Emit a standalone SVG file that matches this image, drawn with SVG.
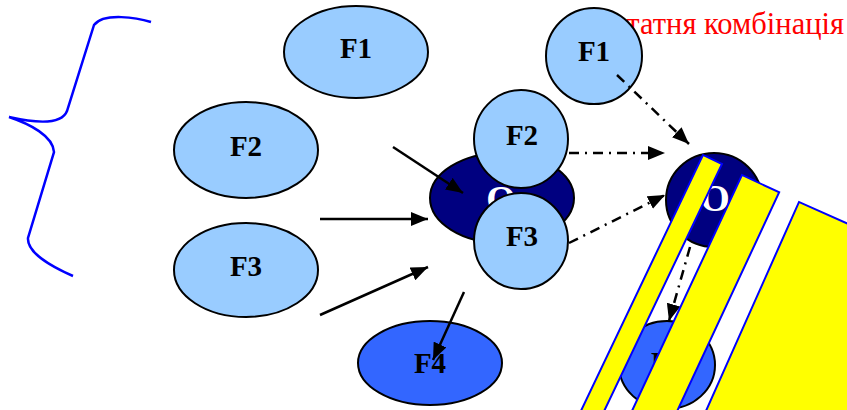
<svg xmlns="http://www.w3.org/2000/svg" width="847" height="410" viewBox="0 0 847 410">
<style>
.lb{fill:#99CCFF;stroke:#000;stroke-width:2}
.dk{fill:#000080;stroke:#000;stroke-width:2}
.bl{fill:#3366FF;stroke:#000;stroke-width:2}
.t{font-family:"Liberation Serif",Tinos,"Times New Roman","DejaVu Serif","Noto Serif",serif;font-weight:bold;font-size:29px;fill:#000;text-anchor:middle}
.o{font-family:"Liberation Serif",Tinos,"Times New Roman","DejaVu Serif","Noto Serif",serif;font-weight:bold;font-size:38px;fill:#fff;text-anchor:middle}
.r{font-family:"Liberation Serif",Tinos,"Times New Roman","DejaVu Serif","Noto Serif",serif;font-size:30.5px;fill:#FF0000;text-anchor:end}
.sol{stroke:#000;stroke-width:2.5;fill:none;marker-end:url(#ah)}
.dd{stroke:#000;stroke-width:2.5;fill:none;stroke-dasharray:10 6 2 6;marker-end:url(#ah)}
.st{fill:#FFFF00;stroke:#0000FF;stroke-width:2}
</style>
<defs>
<marker id="ah" markerUnits="userSpaceOnUse" markerWidth="18" markerHeight="14" refX="17" refY="7" orient="auto">
<path d="M0,0 L17,7 L0,14 z" fill="#000"/>
</marker>
</defs>
<path id="brace" d="M151,22 C138,18 104,12 94,25 L67,111 C62,124 40,124 9,117 C30,124 53,136 54,152 L28,238 C27,252 50,266 73,276" fill="none" stroke="#0000FF" stroke-width="2.5"/>
<text id="title" class="r" x="844" y="34">Остатня комбінація</text>
<g id="f1-left"><ellipse class="lb" cx="356" cy="52" rx="72" ry="46"/><text class="t" x="356" y="58">F1</text></g>
<g id="f2-left"><ellipse class="lb" cx="246" cy="150" rx="72" ry="48"/><text class="t" x="246" y="156">F2</text></g>
<g id="f3-left"><ellipse class="lb" cx="246" cy="270" rx="72" ry="47"/><text class="t" x="246" y="276">F3</text></g>
<g id="f4-left"><ellipse class="bl" cx="430" cy="363" rx="72" ry="42"/><text class="t" x="430" y="373">F4</text></g>
<g id="o-mid"><ellipse class="dk" cx="502" cy="198" rx="72" ry="45"/><text class="o" x="501" y="212">O</text></g>
<g id="f2-mid"><ellipse class="lb" cx="521" cy="139" rx="47" ry="49"/><text class="t" x="522" y="145">F2</text></g>
<g id="f3-mid"><ellipse class="lb" cx="521" cy="241" rx="47" ry="48"/><text class="t" x="522" y="246">F3</text></g>
<g id="f1-right"><ellipse class="lb" cx="594" cy="56" rx="48" ry="48"/><text class="t" x="594" y="61">F1</text></g>
<g id="o-right"><ellipse class="dk" cx="714" cy="200" rx="48" ry="47"/><text class="o" x="715" y="211">O</text></g>
<g id="f4-right"><ellipse class="bl" cx="667" cy="365" rx="48" ry="44"/><text class="t" x="667" y="372">F4</text></g>
<g id="connectors">
<line class="sol" x1="393" y1="147" x2="463" y2="193"/>
<line class="sol" x1="320" y1="219" x2="428" y2="219"/>
<line class="sol" x1="320" y1="315" x2="428" y2="267"/>
<line class="sol" x1="464" y1="292" x2="433" y2="360"/>
<line class="dd" x1="617" y1="75" x2="689" y2="144"/>
<line class="dd" x1="569" y1="153" x2="665" y2="153"/>
<line class="dd" x1="569" y1="243" x2="665" y2="195"/>
<line class="dd" x1="690" y1="247" x2="669" y2="321"/>
</g>
<g id="stripes">
<rect class="st" x="0" y="0" width="21" height="320" transform="translate(703,155) rotate(25.5)"/>
<rect class="st" x="0" y="0" width="41" height="320" transform="translate(742,175) rotate(25)"/>
<rect class="st" x="0" y="0" width="300" height="320" transform="translate(799,202) rotate(24)"/>
</g>
</svg>
